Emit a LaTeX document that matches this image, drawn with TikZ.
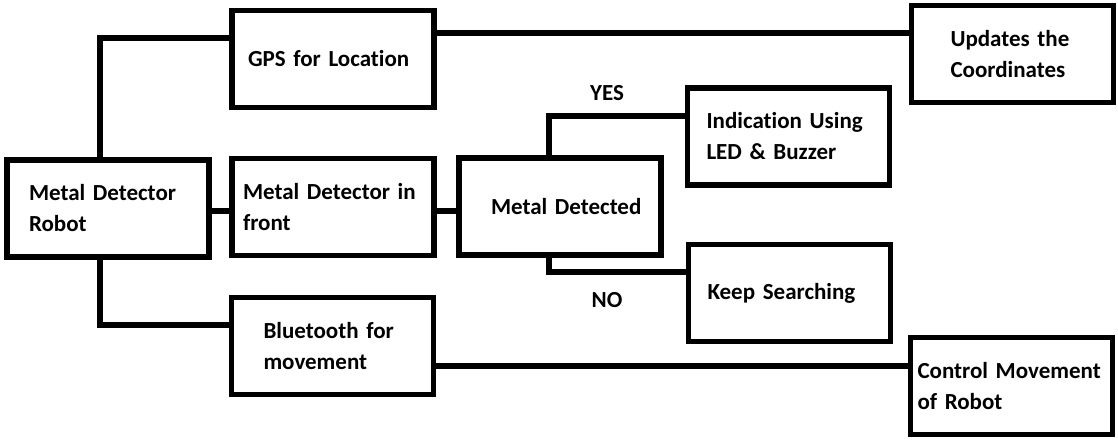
\documentclass[tikz,border=0pt]{standalone}
\usepackage{fontspec}
\setmainfont{Carlito}[Ligatures=NoCommon]
\usetikzlibrary{positioning}

\tikzset{
  blok/.style={draw, line width=5.5pt, minimum width=202pt, minimum height=97pt,
    inner xsep=0pt, text width=202pt, align=left,
    font=\bfseries\fontsize{23}{31}\selectfont},
  ins/.style={execute at begin node={\leftskip=#1pt\relax}},
  lbl/.style={font=\bfseries\fontsize{23}{31}\selectfont},
  wire/.style={line width=5.5pt}
}

\begin{document}
\begin{tikzpicture}[x=1pt, y=-1pt]
        \useasboundingbox (0,0) rectangle (1118,439);

        % boxes
        \node[blok, ins=22] (robot) at (108,208.5) {Metal Detector\\Robot};
        \node[blok, ins=16] (gps)   at (333,59)    {GPS for Location};
        \node[blok, ins=11] (front) at (333,207)   {Metal Detector in\\front};
        \node[blok, ins=32] (bt)    at (332.5,346) {Bluetooth for\\movement};
        \node[blok, ins=32] (det)   at (560,206.5) {Metal Detected};
        \node[blok, ins=19] (led)   at (788.5,136.5) {Indication Using\\LED \& Buzzer};
        \node[blok, ins=19] (keep)  at (789.5,293) {Keep Searching};
        \node[blok, ins=39] (upd)   at (1012.5,54) {Updates the\\Coordinates};
        \node[blok, ins=7]  (ctrl)  at (1011.5,386) {Control Movement\\of Robot};

        % labels
        \node[lbl] (yes) at (607,93)  {YES};
        \node[lbl] (no)  at (607,300) {NO};

        % connectors
        \draw[wire] ([xshift=-8pt]robot.north) |- ([yshift=21pt]gps.west);
        \draw[wire] ([xshift=-8pt]robot.south) |- ([yshift=21pt]bt.west);
        \draw[wire] ([yshift=-2.5pt]robot.east) -- ([yshift=-2.5pt]robot.east -| front.west);
        \draw[wire] ([yshift=-4pt]front.east) -- ([yshift=-4pt]front.east -| det.west);
        \draw[wire] ([yshift=26pt]gps.east) -- ([yshift=26pt]gps.east -| upd.west);
        \draw[wire] ([xshift=-11pt]det.north) |- ([yshift=20.5pt]led.west);
        \draw[wire] ([xshift=-11pt]det.south) |- ([yshift=21pt]keep.west);
        \draw[wire] ([yshift=-20pt]bt.east) -- ([yshift=-20pt]bt.east -| ctrl.west);
\end{tikzpicture}
\end{document}
